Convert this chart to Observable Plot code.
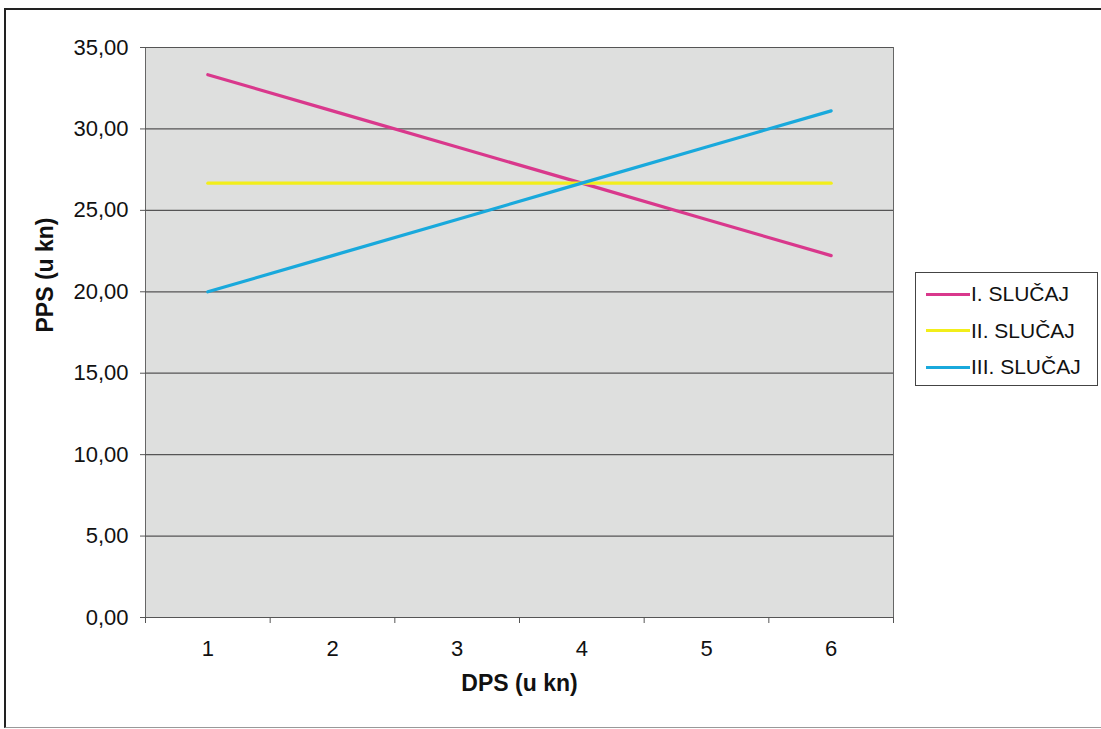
<!DOCTYPE html>
<html>
<head>
<meta charset="utf-8">
<script src="https://cdn.jsdelivr.net/npm/d3@7"></script>
<script src="https://cdn.jsdelivr.net/npm/@observablehq/plot@0.6"></script>
<style>
  html, body { margin: 0; padding: 0; background: #fff; }
  body { width: 1101px; height: 729px; position: relative; overflow: hidden; font-family: "Liberation Sans", Arial, sans-serif; }
  #frame { position: absolute; left: 4px; top: 8px; width: 1110px; height: 717px; border-left: 2px solid #222; border-top: 2px solid #222; border-bottom: 1px solid #999; }
  #chart { position: absolute; left: 0; top: 0; }
  #legend { position: absolute; left: 915px; top: 272px; width: 181px; height: 112px; border: 1px solid #444; background: #fff; font-size: 21px; color: #111; }
  .row { position: absolute; left: 10px; display: flex; align-items: center; height: 24px; }
  .sw { width: 44px; height: 3px; margin-right: 1px; }
</style>
</head>
<body>
<div id="frame"></div>
<div id="chart"></div>
<div id="legend"></div>
<script>
const categories = [1, 2, 3, 4, 5, 6];
const seriesNames = ["I. SLUČAJ", "II. SLUČAJ", "III. SLUČAJ"];
const seriesColors = ["#d9388c", "#f2ee1a", "#19a9dc"];
const slucajI = [33.33, 31.11, 28.89, 26.67, 24.44, 22.22];
const slucajII = [26.67, 26.67, 26.67, 26.67, 26.67, 26.67];
const slucajIII = [20.00, 22.22, 24.44, 26.67, 28.89, 31.11];
const yTicks = [0, 5, 10, 15, 20, 25, 30, 35];

const seriesValues = [slucajI, slucajII, slucajIII];
const data = [];
seriesNames.forEach((name, si) => {
  categories.forEach((c, i) => data.push({series: name, x: c, y: seriesValues[si][i]}));
});
const boundaries = [categories[0] - 0.5, ...categories.map(c => c + 0.5)];

const plot = Plot.plot({
  width: 1101,
  height: 729,
  marginLeft: 145,
  marginRight: 208,
  marginTop: 47,
  marginBottom: 112,
  style: {fontFamily: "Liberation Sans, Arial, sans-serif", color: "#111", background: "transparent"},
  x: {domain: [boundaries[0], boundaries[boundaries.length - 1]]},
  y: {domain: [0, 35]},
  color: {domain: seriesNames, range: seriesColors},
  marks: [
    Plot.frame({fill: "#dedfde", stroke: "#666", strokeWidth: 1}),
    Plot.ruleY(yTicks, {stroke: "#555", strokeWidth: 1.2}),
    Plot.axisY({ticks: yTicks, tickFormat: d => d3.format(".2f")(d).replace(".", ","), tickSize: 5, tickPadding: 12, label: null, stroke: "#555", fontSize: 22}),
    Plot.axisX({ticks: categories, tickSize: 0, tickPadding: 23, tickFormat: d => String(d), label: null, fontSize: 22}),
    Plot.axisX({ticks: boundaries, tickSize: 6, tickFormat: () => "", label: null, stroke: "#555"}),
    Plot.line(data, {x: "x", y: "y", z: "series", stroke: "series", strokeWidth: 3.2}),
    Plot.text(["DPS (u kn)"], {frameAnchor: "bottom", dy: 73, fontWeight: "bold", fontSize: 23}),
    Plot.text(["PPS (u kn)"], {frameAnchor: "left", dx: -100, rotate: -90, fontWeight: "bold", fontSize: 23})
  ]
});
document.getElementById("chart").appendChild(plot);

const legend = document.getElementById("legend");
seriesNames.forEach((name, i) => {
  const row = document.createElement("div");
  row.className = "row";
  row.style.top = (9 + i * 36.5) + "px";
  const sw = document.createElement("div");
  sw.className = "sw";
  sw.style.background = seriesColors[i];
  const t = document.createElement("span");
  t.textContent = name;
  row.appendChild(sw);
  row.appendChild(t);
  legend.appendChild(row);
});
</script>
</body>
</html>
